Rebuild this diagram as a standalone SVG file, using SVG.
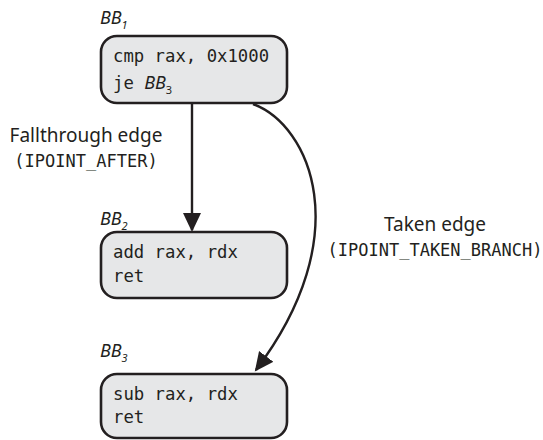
<svg xmlns="http://www.w3.org/2000/svg" width="543" height="440" viewBox="0 0 543 440">
<style>
.box{fill:#e6e7e8;stroke:#231f20;stroke-width:2.6}
.code{font-family:"DejaVu Sans Mono","Liberation Mono",monospace;font-size:17.3px;fill:#231f20}
.lbl{font-family:"DejaVu Sans Mono","Liberation Mono",monospace;font-size:17px;fill:#231f20}
.sans{font-family:"Noto Sans","Liberation Sans",sans-serif;font-size:19px;fill:#231f20}
.bb{font-family:"Noto Sans","Liberation Sans",sans-serif;font-style:italic;font-size:18px;fill:#231f20}
.sub{font-family:"Noto Sans","Liberation Sans",sans-serif;font-size:11px;fill:#231f20}
.edge{fill:none;stroke:#231f20;stroke-width:2.4}
</style>
<defs>
<marker id="ah" markerUnits="userSpaceOnUse" markerWidth="20" markerHeight="20" refX="17" refY="9" orient="auto">
<path d="M0,0 L19,9 L0,18 z" fill="#231f20"/>
</marker>
</defs>
<g id="connectors">
<path class="edge" d="M192,104 L192,230" marker-end="url(#ah)"/>
<path class="edge" d="M253,104 C310,125 358,235 256,370" marker-end="url(#ah)"/>
<text class="sans" x="86" y="142" text-anchor="middle">Fallthrough edge</text>
<text class="lbl" x="86" y="167" text-anchor="middle">(IPOINT_AFTER)</text>
<text class="sans" x="435" y="231" text-anchor="middle">Taken edge</text>
<text class="lbl" x="435" y="256" text-anchor="middle">(IPOINT_TAKEN_BRANCH)</text>
</g>
<g id="bb1">
<text class="bb" x="100" y="24">BB<tspan class="sub" dy="5">1</tspan></text>
<rect class="box" x="101" y="36" width="186" height="67" rx="16"/>
<text class="code" x="113" y="62">cmp rax, 0x1000</text>
<text class="code" x="113" y="89">je <tspan class="bb">BB</tspan><tspan class="sub" dy="5">3</tspan></text>
</g>
<g id="bb2">
<text class="bb" x="100" y="225">BB<tspan class="sub" dy="5">2</tspan></text>
<rect class="box" x="101" y="232" width="186" height="66" rx="16"/>
<text class="code" x="113" y="258">add rax, rdx</text>
<text class="code" x="113" y="282">ret</text>
</g>
<g id="bb3">
<text class="bb" x="100" y="357">BB<tspan class="sub" dy="5">3</tspan></text>
<rect class="box" x="101" y="374" width="186" height="64" rx="16"/>
<text class="code" x="113" y="400">sub rax, rdx</text>
<text class="code" x="113" y="423">ret</text>
</g>
</svg>
